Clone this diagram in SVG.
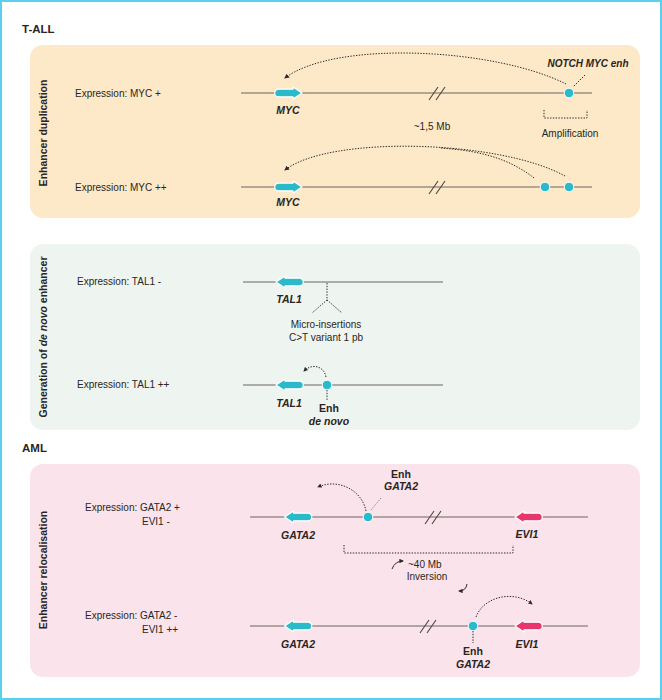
<svg xmlns="http://www.w3.org/2000/svg" width="662" height="700" viewBox="0 0 662 700">
<style>
text{font-family:"Liberation Sans",Arial,sans-serif;fill:#2a2522}
.t{font-size:10px}
.h{font-size:11.5px;font-weight:bold}
.v{font-size:10.5px;font-weight:bold}
.g{font-size:10.5px;font-weight:bold;font-style:italic}
.chr{stroke:#6b6460;stroke-width:1.2;fill:none}
.dot{stroke:#2d2a28;stroke-width:1;stroke-dasharray:1.4 1.4;fill:none}
.dotg{stroke:#8a8580;stroke-width:1;stroke-dasharray:1.4 1.4;fill:none}
.enh{fill:#2bbac9;stroke:#fff;stroke-width:1}
.brk{stroke:#4a4542;stroke-width:1.1}
.sol{stroke:#2d2a28;stroke-width:1;fill:none}
</style>
<defs>
<path id="ar" d="M -10,-3.8 H 4.5 V -6 L 13.5,0 L 4.5,6 V 3.8 H -10 A 3.8 3.8 0 0 1 -10,-3.8 Z" stroke="#fff" stroke-width="1.2" stroke-linejoin="round"/>
<marker id="ah" viewBox="0 0 10 10" refX="8" refY="5" markerWidth="5" markerHeight="5" orient="auto" markerUnits="userSpaceOnUse">
<path d="M0,0 L10,5 L0,10 Z" fill="#2d2a28"/>
</marker>
<marker id="ahs" viewBox="0 0 10 10" refX="8" refY="5" markerWidth="4.5" markerHeight="4.5" orient="auto" markerUnits="userSpaceOnUse">
<path d="M0,0 L10,5 L0,10 Z" fill="#2d2a28"/>
</marker>
</defs>
<rect x="1" y="1" width="660" height="698" fill="#fff" stroke="#5ad0ee" stroke-width="2"/>

<text class="h" x="22" y="33">T-ALL</text>
<text class="h" x="22" y="452">AML</text>

<g id="panel-duplication">
<rect x="30" y="45" width="610" height="173" rx="13" fill="#fde9c8"/>
<text class="v" text-anchor="middle" transform="translate(47,133) rotate(-90)">Enhancer duplication</text>
<text class="t" x="75" y="97">Expression: MYC +</text>
<text class="t" x="75" y="191">Expression: MYC ++</text>
<text class="t" x="432" y="130" text-anchor="middle">~1,5 Mb</text>
<text class="t" x="570" y="137" text-anchor="middle">Amplification</text>
</g>

<g id="chr-myc-1">
<line class="chr" x1="241" y1="93" x2="592" y2="93"/>
<line class="brk" x1="429" y1="100" x2="438" y2="87"/>
<line class="brk" x1="436" y1="100" x2="445" y2="87"/>
<use href="#ar" x="288.5" y="93" fill="#2bbac9"/>
<text class="g" x="288" y="114" text-anchor="middle">MYC</text>
<circle class="enh" cx="569" cy="93" r="4.8"/>
<text class="g" x="588" y="67" text-anchor="middle" style="font-size:10px">NOTCH MYC enh</text>
</g>

<g id="chr-myc-2">
<line class="chr" x1="241" y1="187" x2="592" y2="187"/>
<line class="brk" x1="429" y1="194" x2="438" y2="181"/>
<line class="brk" x1="436" y1="194" x2="445" y2="181"/>
<use href="#ar" x="288.5" y="187" fill="#2bbac9"/>
<text class="g" x="288" y="206" text-anchor="middle">MYC</text>
<circle class="enh" cx="545" cy="187" r="4.8"/>
<circle class="enh" cx="569" cy="187" r="4.8"/>
</g>

<g id="panel-denovo">
<rect x="30" y="244" width="610" height="186" rx="13" fill="#eef5f0"/>
<text class="v" text-anchor="middle" transform="translate(47,337) rotate(-90)">Generation of <tspan font-style="italic">de novo</tspan> enhancer</text>
<text class="t" x="77" y="285">Expression: TAL1 -</text>
<text class="t" x="77" y="388">Expression: TAL1 ++</text>
<text class="t" x="326" y="328" text-anchor="middle">Micro-insertions</text>
<text class="t" x="326" y="341" text-anchor="middle">C&gt;T variant 1 pb</text>
</g>

<g id="chr-tal1-1">
<line class="chr" x1="243" y1="282" x2="443" y2="282"/>
<use href="#ar" transform="translate(289.5,282) scale(-1,1)" fill="#2bbac9"/>
<text class="g" x="289" y="303" text-anchor="middle">TAL1</text>
</g>

<g id="chr-tal1-2">
<line class="chr" x1="243" y1="385" x2="443" y2="385"/>
<use href="#ar" transform="translate(289.5,385) scale(-1,1)" fill="#2bbac9"/>
<text class="g" x="289" y="407" text-anchor="middle">TAL1</text>
<circle class="enh" cx="327" cy="385" r="4.8"/>
<text class="t" x="329" y="412" text-anchor="middle" style="font-weight:bold;font-size:10.5px">Enh</text>
<text class="g" x="329" y="425" text-anchor="middle">de novo</text>
</g>

<g id="panel-relocalisation">
<rect x="30" y="464" width="610" height="213" rx="13" fill="#fbe3eb"/>
<text class="v" text-anchor="middle" transform="translate(47,570) rotate(-90)">Enhancer relocalisation</text>
<text class="t" x="85" y="511">Expression: GATA2 +</text>
<text class="t" x="142" y="525">EVI1 -</text>
<text class="t" x="85" y="619">Expression: GATA2 -</text>
<text class="t" x="142" y="633">EVI1 ++</text>
<text class="t" x="408" y="568">~40 Mb</text>
<text class="t" x="427" y="580" text-anchor="middle">Inversion</text>
</g>

<g id="chr-aml-1">
<line class="chr" x1="250" y1="517" x2="588" y2="517"/>
<line class="brk" x1="425" y1="524" x2="434" y2="511"/>
<line class="brk" x1="432" y1="524" x2="441" y2="511"/>
<use href="#ar" transform="translate(298,517) scale(-1,1)" fill="#2bbac9"/>
<text class="g" x="298" y="539" text-anchor="middle">GATA2</text>
<use href="#ar" transform="translate(528.5,517) scale(-1,1)" fill="#e8366c"/>
<text class="g" x="527" y="538" text-anchor="middle">EVI1</text>
<circle class="enh" cx="368" cy="517" r="4.8"/>
<text class="t" x="401" y="478" text-anchor="middle" style="font-weight:bold;font-size:10.5px">Enh</text>
<text class="g" x="401" y="490" text-anchor="middle">GATA2</text>
</g>

<g id="chr-aml-2">
<line class="chr" x1="250" y1="626" x2="588" y2="626"/>
<line class="brk" x1="420" y1="633" x2="429" y2="620"/>
<line class="brk" x1="427" y1="633" x2="436" y2="620"/>
<use href="#ar" transform="translate(298,626) scale(-1,1)" fill="#2bbac9"/>
<text class="g" x="298" y="648" text-anchor="middle">GATA2</text>
<use href="#ar" transform="translate(528.5,626) scale(-1,1)" fill="#e8366c"/>
<text class="g" x="527" y="648" text-anchor="middle">EVI1</text>
<circle class="enh" cx="473" cy="626" r="4.8"/>
<text class="t" x="473" y="655" text-anchor="middle" style="font-weight:bold;font-size:10.5px">Enh</text>
<text class="g" x="473" y="668" text-anchor="middle">GATA2</text>
</g>

<g id="connectors">
<path class="dot" d="M 566,84 C 495,48 335,40 285,78" marker-end="url(#ah)"/>
<path class="dot" d="M 585,75 L 573,87"/>
<path class="dot" d="M 544,110 V 118 H 587 V 110"/>
<path class="dot" d="M 565,176 C 500,140 330,135 285,170" marker-end="url(#ah)"/>
<path class="dot" d="M 534,178 C 505,155 470,150 440,148"/>
<path class="dot" d="M 327,283 V 300 L 312,313 M 327,300 L 342,313"/>
<path class="dot" d="M 326,377 C 324,366 312,363 304,371" marker-end="url(#ahs)"/>
<path class="dot" d="M 327,390 V 401"/>
<path class="dot" d="M 366,511 C 362,490 338,478 318,487" marker-end="url(#ahs)"/>
<path class="dotg" d="M 381,498 L 371,510"/>
<path class="dot" d="M 344,545 V 553 H 513 V 545"/>
<path class="sol" d="M 392,569 Q 395,561 403,561" marker-end="url(#ahs)"/>
<path class="sol" d="M 467,584 Q 466,591 459,591" marker-end="url(#ahs)"/>
<path class="dot" d="M 476,617 C 484,596 514,590 532,604" marker-end="url(#ahs)"/>
<path class="dot" d="M 473,631 V 643"/>
</g>
</svg>
